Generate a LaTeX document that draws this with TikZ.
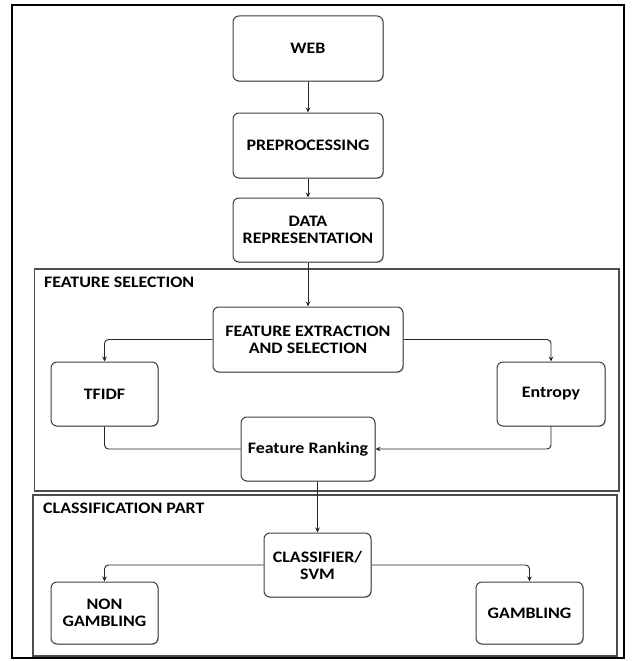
\documentclass[tikz,border=0pt]{standalone}
\usepackage{fontspec}
\setmainfont{Carlito}[FakeStretch=1.12]
\usetikzlibrary{arrows.meta,shadows}
\begin{document}
\begin{tikzpicture}[x=1pt, y=-1pt,
    box/.style={draw=black!75, line width=1pt, rounded corners=6pt, fill=white,
        align=center, inner sep=2pt, font=\fontsize{16}{17}\selectfont\bfseries,
        drop shadow={shadow xshift=0.8pt, shadow yshift=-0.8pt, opacity=0.25, fill=black}},
    frame/.style={draw=black!70, line width=1.1pt},
    title/.style={anchor=west, inner sep=0pt, font=\fontsize{16}{17}\selectfont\bfseries},
    arr/.style={draw=black!85, line width=0.9pt, rounded corners=4pt, -{Stealth[length=5pt, width=4.5pt]}},
    link/.style={draw=black!85, line width=0.9pt, rounded corners=4pt}
]
\useasboundingbox (0,0) rectangle (636,661);
\draw[line width=2.4pt] (12,5) rectangle (624,658);
\draw[frame] (34.5,269) rectangle (619,491);
\draw[frame] (33,495) rectangle (617,656);
\node[title] (fstitle) at (44,282) {FEATURE SELECTION};
\node[title] (cptitle) at (43,508) {CLASSIFICATION PART};

\node[box, minimum width=150pt, minimum height=65pt] (web) at (308,48.5) {WEB};
\node[box, minimum width=150pt, minimum height=65pt] (pre) at (308,145.5) {PREPROCESSING};
\node[box, minimum width=150pt, minimum height=64pt] (data) at (308,230) {DATA\\REPRESENTATION};
\node[box, minimum width=190pt, minimum height=65pt] (fe) at (308,339.5) {FEATURE EXTRACTION\\AND SELECTION};
\node[box, minimum width=107pt, minimum height=64pt] (tfidf) at (104.5,394) {TFIDF};
\node[box, minimum width=108pt, minimum height=64pt] (ent) at (551,394) {Entropy};
\node[box, minimum width=134pt, minimum height=64pt] (rank) at (308,449) {Feature Ranking};
\node[box, minimum width=107pt, minimum height=64pt] (cls) at (317.5,565) {CLASSIFIER/\\SVM};
\node[box, minimum width=107pt, minimum height=62pt] (non) at (104.5,613) {NON\\GAMBLING};
\node[box, minimum width=107pt, minimum height=62pt] (gam) at (529.5,613) {GAMBLING};

\draw[arr] (web) -- (pre);
\draw[arr] (pre) -- (data);
\draw[arr] (data) -- (fe);
\draw[arr] (fe.west) -| (tfidf.north);
\draw[arr] (fe.east) -| (ent.north);
\draw[link] (tfidf.south) |- (rank.west);
\draw[arr] (ent.south) |- (rank.east);
\draw[arr] (rank.south -| cls.north) -- (cls.north);
\draw[arr] (cls.west) -| (non.north);
\draw[arr] (cls.east) -| (gam.north);
\end{tikzpicture}
\end{document}
